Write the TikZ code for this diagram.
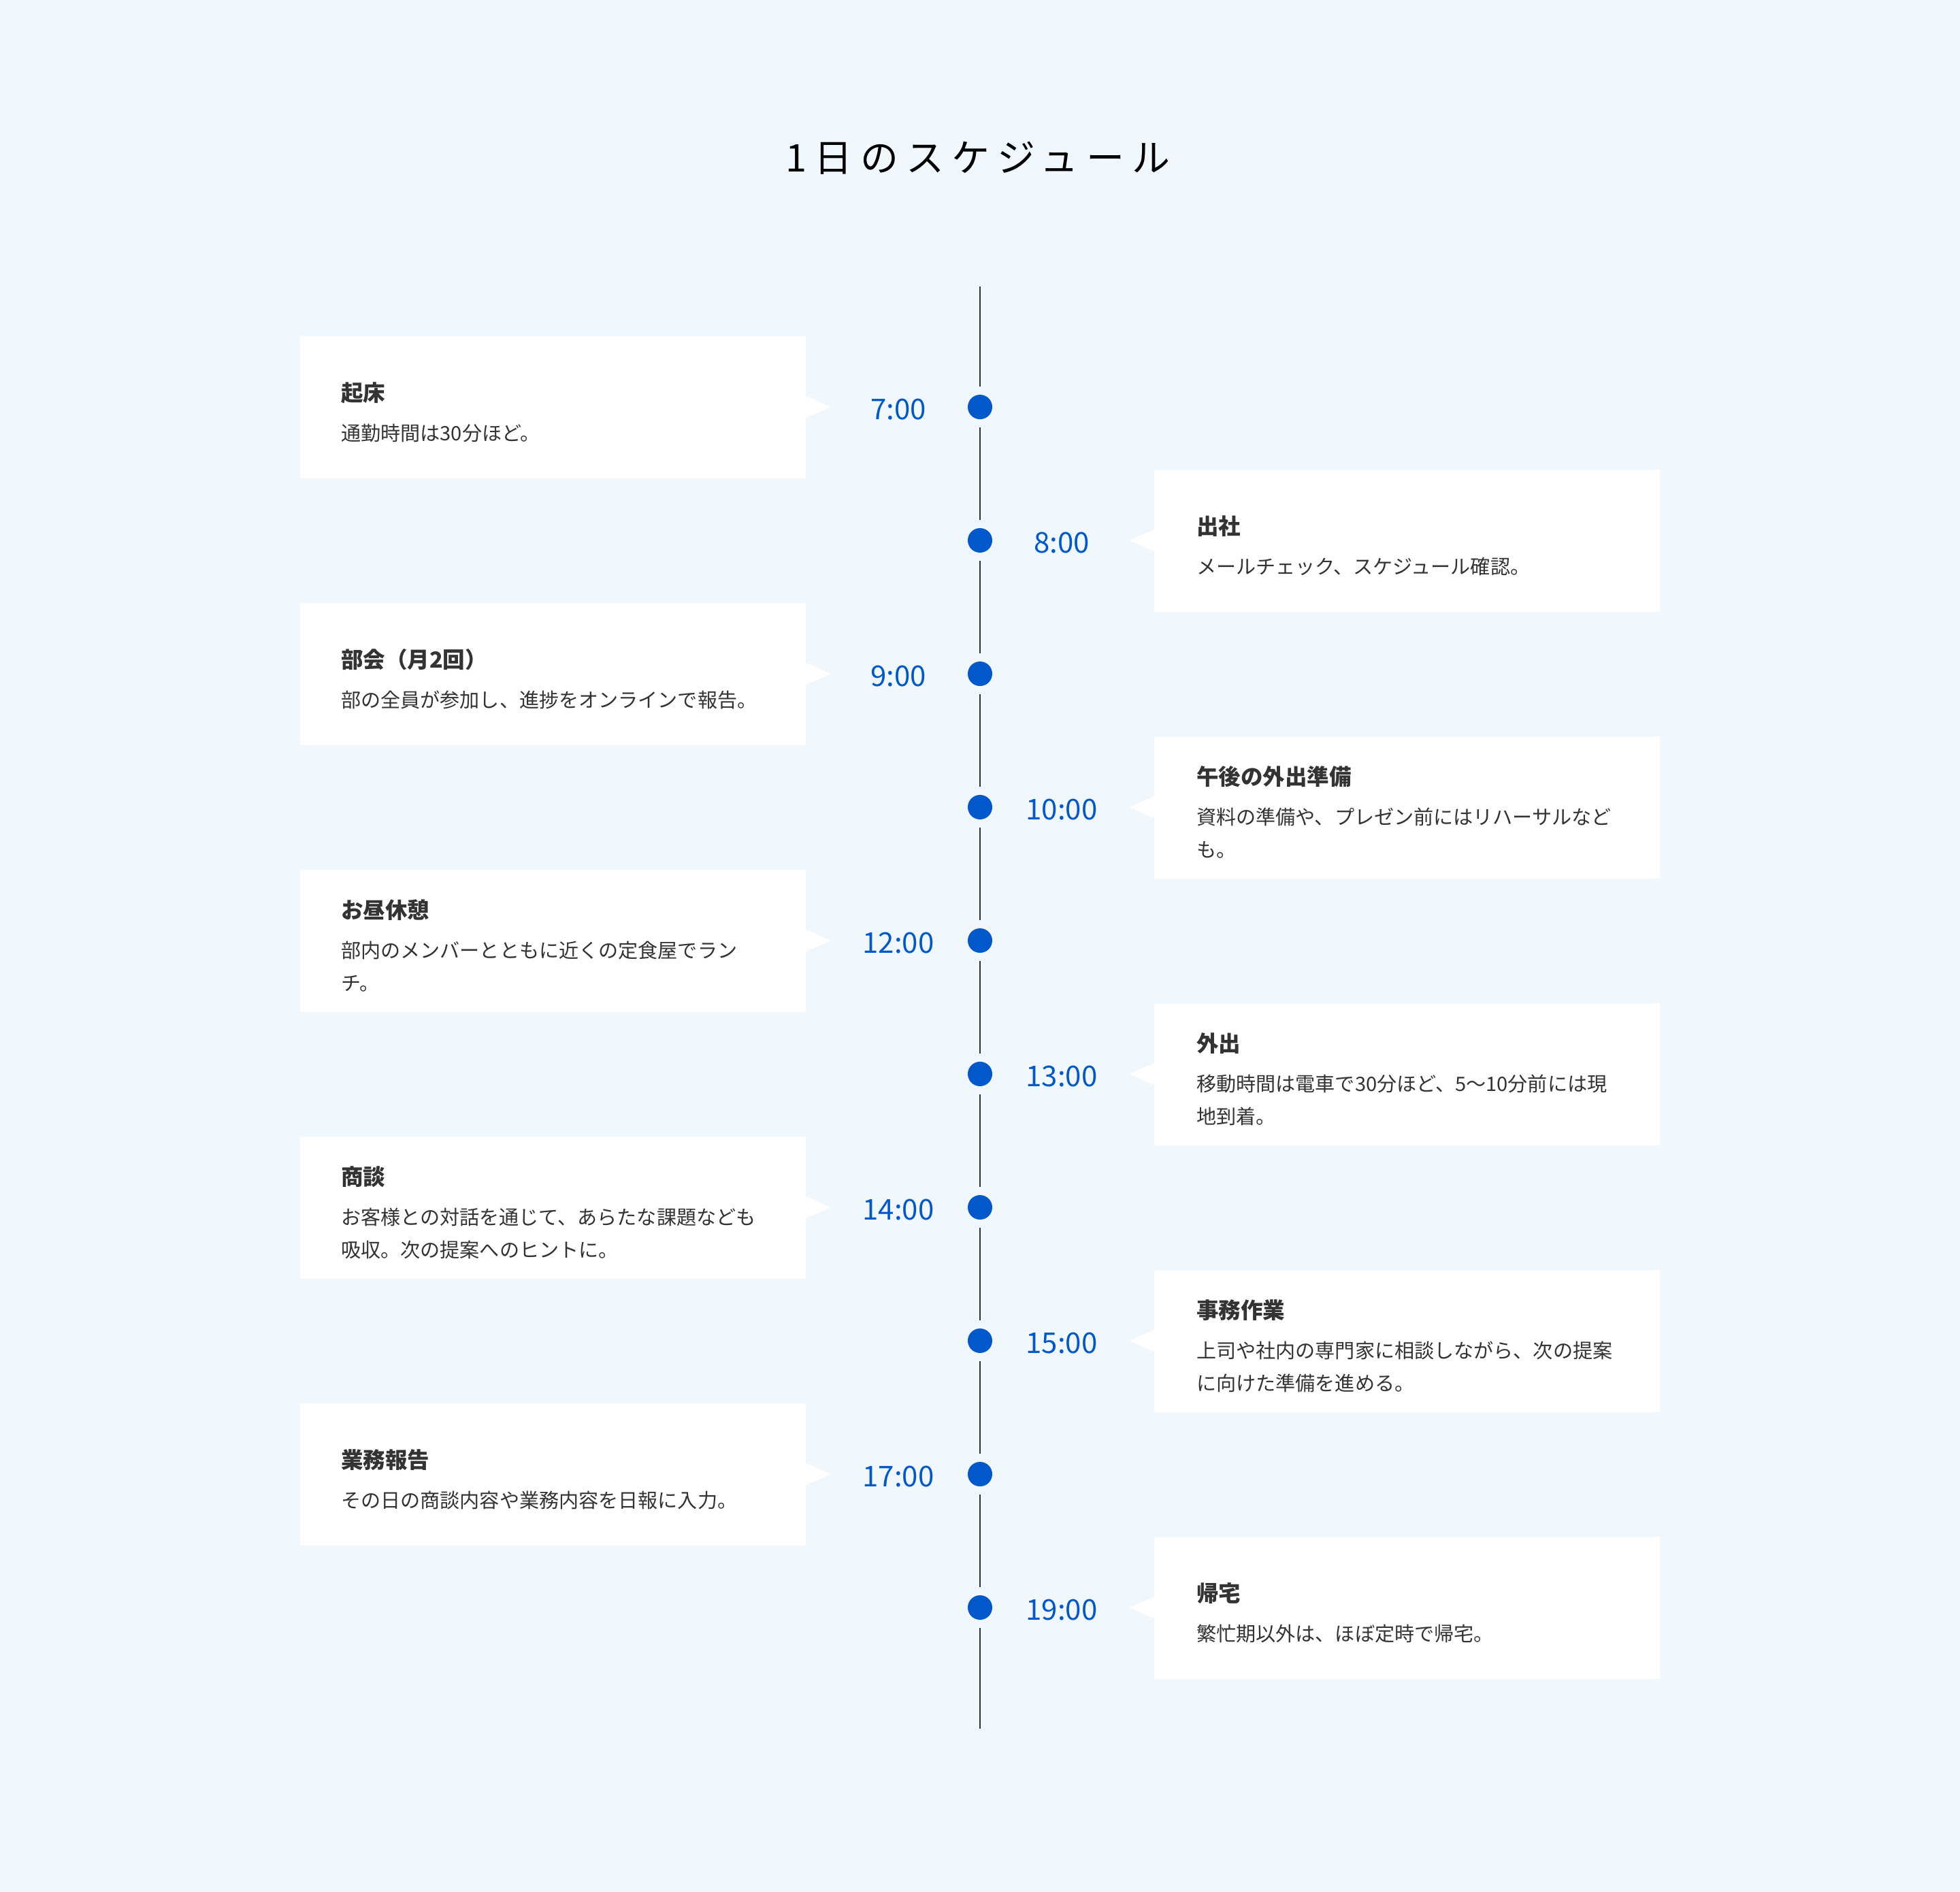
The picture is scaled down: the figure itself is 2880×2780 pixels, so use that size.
\documentclass[tikz,border=0pt]{standalone}
\usepackage{fontspec}
\setmainfont{Noto Sans CJK JP}
\newfontfamily\titlefam{Noto Sans CJK JP}[LetterSpace=20]
\definecolor{bg}{HTML}{F0F8FE}
\definecolor{ink}{HTML}{333333}
\definecolor{accent}{HTML}{0058CB}
\definecolor{linec}{HTML}{2E3232}
\newcommand\timefont{\fontsize{42}{48}\selectfont}
\newcommand\ttlfont{\fontsize{32.5}{40}\selectfont\bfseries}
\newcommand\dscfont{\fontsize{29.1}{48}\selectfont}
\newcommand\entryL[7]{%
  \pgfmathsetmacro\ty{#2-21-24*(#7-1)}%
  \node[card] (#1box) at (812.5,#2) {};
  \fill[white] ([yshift=16pt]#1box.east) -- ++(36pt,-16pt) -- ++(-36pt,-16pt) -- cycle;
  \node[dot] (#1) at (1440,#2) {};
  \node[timel] (#1t) at (1320,#2+4) {#3};
  \node[ttl] (#1h) at (501,\ty+12) {#4};
  \node[dsc] (#1d) at (501,\ty+70) {#5};
  \ifnum#7>1 \node[dsc] (#1e) at (501,\ty+118) {#6};\fi
}
\newcommand\entryR[7]{%
  \pgfmathsetmacro\ty{#2-21-24*(#7-1)}%
  \node[card] (#1box) at (2067.5,#2) {};
  \fill[white] ([yshift=16pt]#1box.west) -- ++(-36pt,-16pt) -- ++(36pt,-16pt) -- cycle;
  \node[dot] (#1) at (1440,#2) {};
  \node[timel] (#1t) at (1560,#2+4) {#3};
  \node[ttl] (#1h) at (1758,\ty+12) {#4};
  \node[dsc] (#1d) at (1758,\ty+70) {#5};
  \ifnum#7>1 \node[dsc] (#1e) at (1758,\ty+118) {#6};\fi
}
\begin{document}
\begin{tikzpicture}[x=1pt,y=-1pt,
  card/.style={fill=white, minimum width=743pt, minimum height=209pt, inner sep=0pt},
  dot/.style={circle, fill=accent, minimum size=36pt, inner sep=0pt},
  timel/.style={text=accent, font=\timefont, inner sep=0pt},
  ttl/.style={anchor=base west, inner sep=0pt, text=ink, font=\ttlfont},
  dsc/.style={anchor=base west, inner sep=0pt, text=ink, font=\dscfont},
  tline/.style={draw=linec, line width=2pt}]
\useasboundingbox (0,0) rectangle (2880,2780);
\fill[bg] (0,0) rectangle (2880,2780);
\node[font={\titlefam\fontsize{56}{60}\selectfont}, text=black, inner sep=0pt] (title) at (1437,232) {1日のスケジュール};
\entryL{e1}{598}{7:00}{起床}{通勤時間は30分ほど。}{}{1}
\entryR{e2}{794}{8:00}{出社}{メールチェック、スケジュール確認。}{}{1}
\entryL{e3}{990}{9:00}{部会（月2回）}{部の全員が参加し、進捗をオンラインで報告。}{}{1}
\entryR{e4}{1186}{10:00}{午後の外出準備}{資料の準備や、プレゼン前にはリハーサルなど}{も。}{2}
\entryL{e5}{1382}{12:00}{お昼休憩}{部内のメンバーとともに近くの定食屋でラン}{チ。}{2}
\entryR{e6}{1578}{13:00}{外出}{移動時間は電車で30分ほど、5〜10分前には現}{地到着。}{2}
\entryL{e7}{1774}{14:00}{商談}{お客様との対話を通じて、あらたな課題なども}{吸収。次の提案へのヒントに。}{2}
\entryR{e8}{1970}{15:00}{事務作業}{上司や社内の専門家に相談しながら、次の提案}{に向けた準備を進める。}{2}
\entryL{e9}{2166}{17:00}{業務報告}{その日の商談内容や業務内容を日報に入力。}{}{1}
\entryR{e10}{2362}{19:00}{帰宅}{繁忙期以外は、ほぼ定時で帰宅。}{}{1}
\coordinate (ltop) at (1440,421);
\coordinate (lbot) at (1440,2540);
\draw[tline, shorten >=12pt] (ltop) -- (e1);
\foreach \a/\b in {e1/e2,e2/e3,e3/e4,e4/e5,e5/e6,e6/e7,e7/e8,e8/e9,e9/e10}
  \draw[tline, shorten <=12pt, shorten >=12pt] (\a) -- (\b);
\draw[tline, shorten <=12pt] (e10) -- (lbot);
\end{tikzpicture}
\end{document}
